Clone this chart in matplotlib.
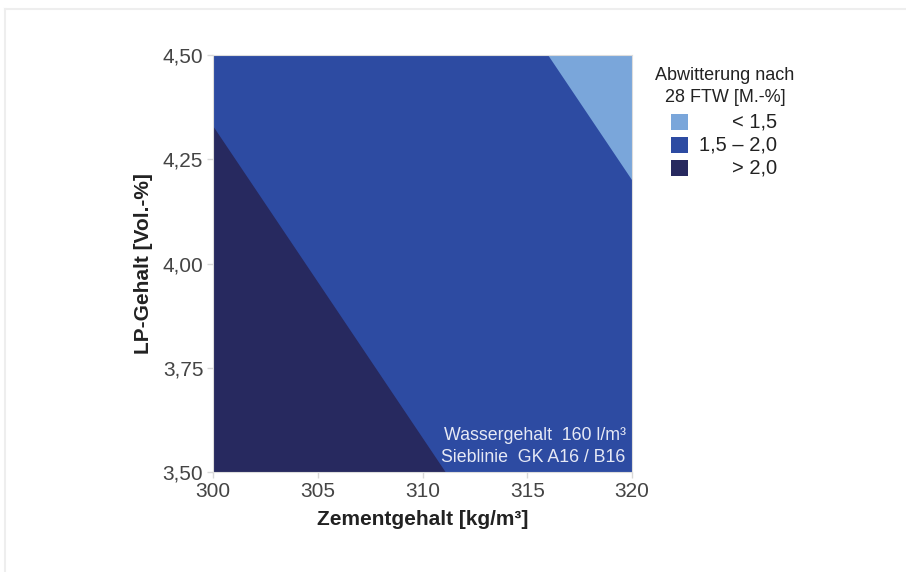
import matplotlib
matplotlib.use("Agg")
import matplotlib.pyplot as plt
from matplotlib.patches import Rectangle
from matplotlib.lines import Line2D

plt.rcParams['font.family'] = ['Liberation Sans', 'DejaVu Sans']

# Data
x_range = [300, 320]
y_range = [3.50, 4.50]
# boundary between "> 2,0" and "1,5 – 2,0" (x, y points)
dark_boundary_x = [300.0, 311.1]
dark_boundary_y = [4.33, 3.50]
# boundary between "1,5 – 2,0" and "< 1,5"
light_boundary_x = [316.0, 320.0]
light_boundary_y = [4.50, 4.20]

x_ticks = [300, 305, 310, 315, 320]
x_ticklabels = ["300", "305", "310", "315", "320"]
y_ticks = [3.50, 3.75, 4.00, 4.25, 4.50]
y_ticklabels = ["3,50", "3,75", "4,00", "4,25", "4,50"]

categories = ["< 1,5", "1,5 – 2,0", "> 2,0"]
colors = ["#7aa6da", "#2d4ba2", "#27295f"]

fig = plt.figure(figsize=(9.06, 5.72), dpi=100)
ax = fig.add_axes([213/906, 1-472/572, (632-213)/906, (472-55)/572])

# mid region: whole area
ax.fill([x_range[0], x_range[1], x_range[1], x_range[0]],
        [y_range[0], y_range[0], y_range[1], y_range[1]], color=colors[1], lw=0)
# dark region
ax.fill([x_range[0], dark_boundary_x[0], dark_boundary_x[1]],
        [y_range[0], dark_boundary_y[0], dark_boundary_y[1]], color=colors[2], lw=0)
# light region
ax.fill([light_boundary_x[0], x_range[1], light_boundary_x[1]],
        [light_boundary_y[0], y_range[1], light_boundary_y[1]], color=colors[0], lw=0)

ax.set_xlim(x_range)
ax.set_ylim(y_range)
ax.set_xticks(x_ticks)
ax.set_xticklabels(x_ticklabels)
ax.set_yticks(y_ticks)
ax.set_yticklabels(y_ticklabels)
ax.tick_params(axis='both', labelsize=15, colors='#d8d8d8', labelcolor='#444444',
               length=4, width=1, direction='out')
ax.tick_params(axis='y', pad=3)
ax.tick_params(axis='x', pad=3)
for s in ax.spines.values():
    s.set_color('#dddddd')
    s.set_linewidth(0.8)

ax.set_xlabel("Zementgehalt [kg/m³]", fontsize=15, fontweight='bold', color='#222222', labelpad=7)
ax.set_ylabel("LP-Gehalt [Vol.-%]", fontsize=15, fontweight='bold', color='#222222', labelpad=7)

ax.text(0.985, 0.088, "Wassergehalt  160 l/m³", transform=ax.transAxes, ha='right', va='center',
        fontsize=12.8, color='#e6e9f5')
ax.text(0.985, 0.035, "Sieblinie  GK A16 / B16", transform=ax.transAxes, ha='right', va='center',
        fontsize=12.8, color='#e6e9f5')

# legend (manual)
fig.text(725/906, 1-75/572, "Abwitterung nach", ha='center', va='center', fontsize=13, color='#222222')
fig.text(725/906, 1-97/572, "28 FTW [M.-%]", ha='center', va='center', fontsize=13, color='#222222')
ys = [122, 145, 168]
for c, lab, yy in zip(colors, categories, ys):
    fig.patches.append(Rectangle((671/906, 1-(yy+8)/572), 17/906, 16/572,
                                 transform=fig.transFigure, color=c, lw=0))
    fig.text(777/906, 1-yy/572, lab, ha='right', va='center', fontsize=14.5, color='#222222')

# thin frame lines
fig.add_artist(Line2D([5/906, 5/906], [0, 1-9/572], transform=fig.transFigure, color='#eeeeee', lw=1.5))
fig.add_artist(Line2D([5/906, 1], [1-9/572, 1-9/572], transform=fig.transFigure, color='#eeeeee', lw=1.5))

fig.savefig("out.png", dpi=100)
